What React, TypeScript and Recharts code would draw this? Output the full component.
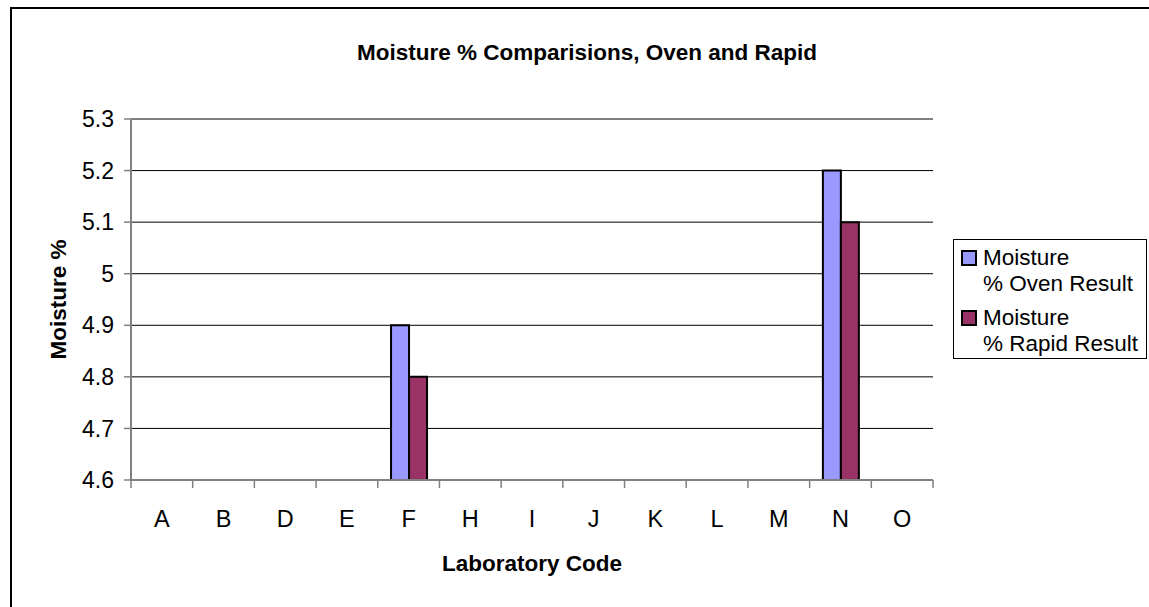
import React from 'react'
import { BarChart, Bar, XAxis, YAxis, CartesianGrid, Legend, ReferenceLine } from 'recharts'

// Moisture % comparisons by laboratory, oven vs rapid method

const labCodes = ['A', 'B', 'D', 'E', 'F', 'H', 'I', 'J', 'K', 'L', 'M', 'N', 'O']
const ovenResults: (number | null)[] = [null, null, null, null, 4.9, null, null, null, null, null, null, 5.2, null]
const rapidResults: (number | null)[] = [null, null, null, null, 4.8, null, null, null, null, null, null, 5.1, null]
const moistureTicks = [4.6, 4.7, 4.8, 4.9, 5, 5.1, 5.2, 5.3]

const seriesNames = {
  oven: 'Moisture % Oven Result',
  rapid: 'Moisture % Rapid Result',
}

const data = labCodes.map((code, i) => ({
  code,
  oven: ovenResults[i],
  rapid: rapidResults[i],
}))

const AXIS_GREY = '#808080'
const TICK_SIZE = 8
const TICK_MARGIN = 22

function CategoryTick(props: any) {
  const { x, y, payload, index, visibleTicksCount } = props
  const half = payload.offset ?? 0
  const top = y - TICK_MARGIN - TICK_SIZE
  const bottom = y - TICK_MARGIN
  return (
    <g>
      <line x1={x - half} x2={x - half} y1={top} y2={bottom} stroke={AXIS_GREY} strokeWidth={1.5} />
      {index === visibleTicksCount - 1 && (
        <line x1={x + half} x2={x + half} y1={top} y2={bottom} stroke={AXIS_GREY} strokeWidth={1.5} />
      )}
      <text x={x} y={y} dy="0.71em" textAnchor="middle" fontSize={23.5} fill="#000">
        {payload.value}
      </text>
    </g>
  )
}

// Excel wraps the series name after its first word
function LegendBox({ payload }: any) {
  return (
    <div
      style={{
        width: 194,
        height: 120,
        border: '1px solid #000',
        background: '#fff',
        paddingTop: 5,
        boxSizing: 'border-box',
      }}
    >
      {(payload || []).map((entry: any) => {
        const text = String(entry.value)
        const cut = text.indexOf(' ')
        return (
          <div key={text} style={{ display: 'flex', alignItems: 'flex-start', marginBottom: 8 }}>
            <span
              style={{
                display: 'inline-block',
                width: 12,
                height: 12,
                marginLeft: 7,
                marginTop: 5,
                marginRight: 6,
                background: entry.color,
                border: '2px solid #000',
                flex: 'none',
              }}
            />
            <span style={{ fontSize: 22.5, lineHeight: '26px', color: '#000', whiteSpace: 'nowrap' }}>
              {text.slice(0, cut)}
              <br />
              {text.slice(cut + 1)}
            </span>
          </div>
        )
      })}
    </div>
  )
}

export default function App() {
  return (
    <div
      style={{
        position: 'fixed',
        left: 0,
        top: 0,
        width: 1149,
        height: 607,
        overflow: 'hidden',
        background: '#fff',
        fontFamily: '"Liberation Sans", Arial, sans-serif',
      }}
    >
      <div
        style={{
          position: 'absolute',
          left: 10,
          top: 7,
          width: 1200,
          height: 700,
          borderLeft: '2px solid #000',
          borderTop: '2px solid #000',
        }}
      />
      <div
        style={{
          position: 'absolute',
          left: 287,
          top: 39,
          width: 600,
          textAlign: 'center',
          fontWeight: 'bold',
          fontSize: 22.5,
          lineHeight: '28px',
          color: '#000',
        }}
      >
        Moisture % Comparisions, Oven and Rapid
      </div>
      <div style={{ position: 'absolute', left: 0, top: 0 }}>
        <BarChart
          width={1149}
          height={607}
          data={data}
          margin={{ top: 119, right: 216, left: 71, bottom: 27 }}
          barCategoryGap="21.5%"
          barGap={0}
        >
          <CartesianGrid vertical={false} stroke="#000" strokeWidth={1} />
          <XAxis
            dataKey="code"
            height={100}
            axisLine={{ stroke: AXIS_GREY, strokeWidth: 2 }}
            tickLine={false}
            tickSize={TICK_SIZE}
            tickMargin={TICK_MARGIN}
            tick={<CategoryTick />}
            interval={0}
            label={{ value: 'Laboratory Code', position: 'center', dy: 33, fontSize: 22.5, fontWeight: 'bold', fill: '#000' }}
          />
          <YAxis
            width={60}
            domain={[4.6, 5.3]}
            ticks={moistureTicks}
            allowDataOverflow
            axisLine={{ stroke: AXIS_GREY, strokeWidth: 2 }}
            tickLine={{ stroke: AXIS_GREY, strokeWidth: 1.5 }}
            tickSize={7}
            tickMargin={10}
            tick={{ fontSize: 23, fill: '#000' }}
            label={{ value: 'Moisture %', angle: -90, position: 'center', dx: -43, fontSize: 22.5, fontWeight: 'bold', fill: '#000' }}
          />
          <YAxis
            yAxisId="edge"
            orientation="right"
            width={0}
            domain={[4.6, 5.3]}
            tick={false}
            tickLine={false}
            axisLine={{ stroke: AXIS_GREY, strokeWidth: 2 }}
          />
          <ReferenceLine y={5.3} stroke={AXIS_GREY} strokeWidth={2} />
          <Legend
            layout="vertical"
            align="center"
            verticalAlign="middle"
            content={<LegendBox />}
            wrapperStyle={{ left: 953, top: 239, width: 194, height: 120 }}
          />
          <Bar
            dataKey="oven"
            name={seriesNames.oven}
            fill="#9999FF"
            stroke="#000"
            strokeWidth={2}
            isAnimationActive={false}
          />
          <Bar
            dataKey="rapid"
            name={seriesNames.rapid}
            fill="#993366"
            stroke="#000"
            strokeWidth={2}
            isAnimationActive={false}
          />
        </BarChart>
      </div>
    </div>
  )
}
